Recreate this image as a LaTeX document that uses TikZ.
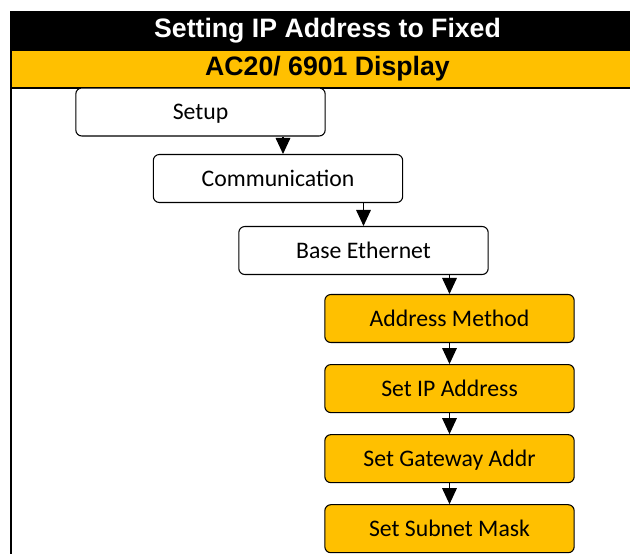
\documentclass[tikz,border=0pt]{standalone}
\usepackage{fontspec}
\setmainfont{Carlito}
\newfontfamily\headfont{Liberation Sans}
\usepackage{xcolor}
\definecolor{mygold}{RGB}{255,192,0}
\usetikzlibrary{arrows.meta, positioning}

\begin{document}
\begin{tikzpicture}[x=0.75pt, y=-0.75pt,
    box/.style={rectangle, rounded corners=4.5pt, draw, line width=0.8pt,
      minimum width=187pt, minimum height=36pt, align=center,
      text height=15pt, text depth=3.6pt,
      font=\fontsize{17.8}{20}\selectfont},
    head/.style={text=#1, font=\headfont\bfseries\fontsize{20}{24}\selectfont},
    arrow/.style={line width=0.8pt, -{Triangle[length=12pt, width=11pt]}}
]
\useasboundingbox (0,0) rectangle (630,554);
% header bands
\fill (10,11) rectangle (630,51);
\fill[mygold] (10,51) rectangle (630,87);
\draw[line width=1.5pt] (10,88) -- (630,88);
\draw[line width=1.5pt] (11,11) -- (11,554);
\node[head=white] (title) at (327.5,31) {Setting IP Address to Fixed};
\node[head=black] (disp) at (327.5,69) {AC20/ 6901 Display};

\node[box, fill=white] (setup) at (200.5,112) {Setup};
\node[box, fill=white] (comm) at (278,178.5) {Communication};
\node[box, fill=white] (eth) at (363.5,250.5) {Base Ethernet};
\node[box, fill=mygold] (method) at (449.5,318.5) {Address Method};
\node[box, fill=mygold, below=15.75pt of method] (ipaddr) {Set IP Address};
\node[box, fill=mygold, below=15.75pt of ipaddr] (gateway) {Set Gateway Addr};
\node[box, fill=mygold, below=15.75pt of gateway] (subnet) {Set Subnet Mask};

\draw[arrow] ([xshift=3.75pt]setup.south -| comm.north) -- ([xshift=3.75pt]comm.north);
\draw[arrow] (comm.south -| eth.north) -- (eth.north);
\draw[arrow] (eth.south -| method.north) -- (method.north);
\draw[arrow] (method) -- (ipaddr);
\draw[arrow] (ipaddr) -- (gateway);
\draw[arrow] (gateway) -- (subnet);
\end{tikzpicture}
\end{document}
